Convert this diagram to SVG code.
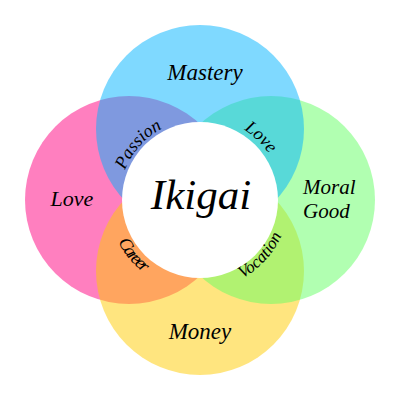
<svg xmlns="http://www.w3.org/2000/svg" width="400" height="400" viewBox="0 0 400 400">
<style>
.t{font-family:"Liberation Serif","DejaVu Serif",serif;font-style:italic;fill:#000}
.c{opacity:0.5}
</style>
<defs>
<path id="pPassion" d="M119.1,197.2 A81,81 0 0 1 188.7,119.8"/>
<path id="pLove" d="M205.8,117.2 A83,83 0 0 1 282.5,191.3"/>
<path id="pCareer" d="M108,198.4 A92,92 0 0 0 182.4,290.3"/>
<path id="pVocation" d="M211.5,288.3 A89,89 0 0 0 288.9,204"/>
</defs>
<rect width="400" height="400" fill="#fff"/>
<g id="love"><circle class="c" cx="129" cy="200" r="104" fill="#ff0080"/><text class="t" x="72" y="206" font-size="22" text-anchor="middle">Love</text></g>
<g id="money"><circle class="c" cx="200" cy="271" r="104" fill="#ffcc00"/><text class="t" x="200" y="339" font-size="23" text-anchor="middle">Money</text></g>
<g id="moral"><circle class="c" cx="271" cy="200" r="104" fill="#64ff64"/><text class="t" x="303" y="194" font-size="21">Moral</text><text class="t" x="303" y="218" font-size="21">Good</text></g>
<g id="mastery"><circle class="c" cx="200" cy="129" r="104" fill="#00b4ff"/><text class="t" x="205" y="80" font-size="23" text-anchor="middle">Mastery</text></g>
<g id="ikigai"><circle cx="200" cy="200" r="78" fill="#fff"/><text class="t" x="201" y="209" font-size="43" text-anchor="middle">Ikigai</text></g>
<g id="labels">
<text class="t" font-size="18"><textPath href="#pPassion" startOffset="50%" text-anchor="middle">Passion</textPath></text>
<text class="t" font-size="18"><textPath href="#pLove" startOffset="50%" text-anchor="middle">Love</textPath></text>
<text class="t" font-size="18" letter-spacing="-2"><textPath href="#pCareer" startOffset="50%" text-anchor="middle">Career</textPath></text>
<text class="t" font-size="17"><textPath href="#pVocation" startOffset="50%" text-anchor="middle">Vocation</textPath></text>
</g>
</svg>
